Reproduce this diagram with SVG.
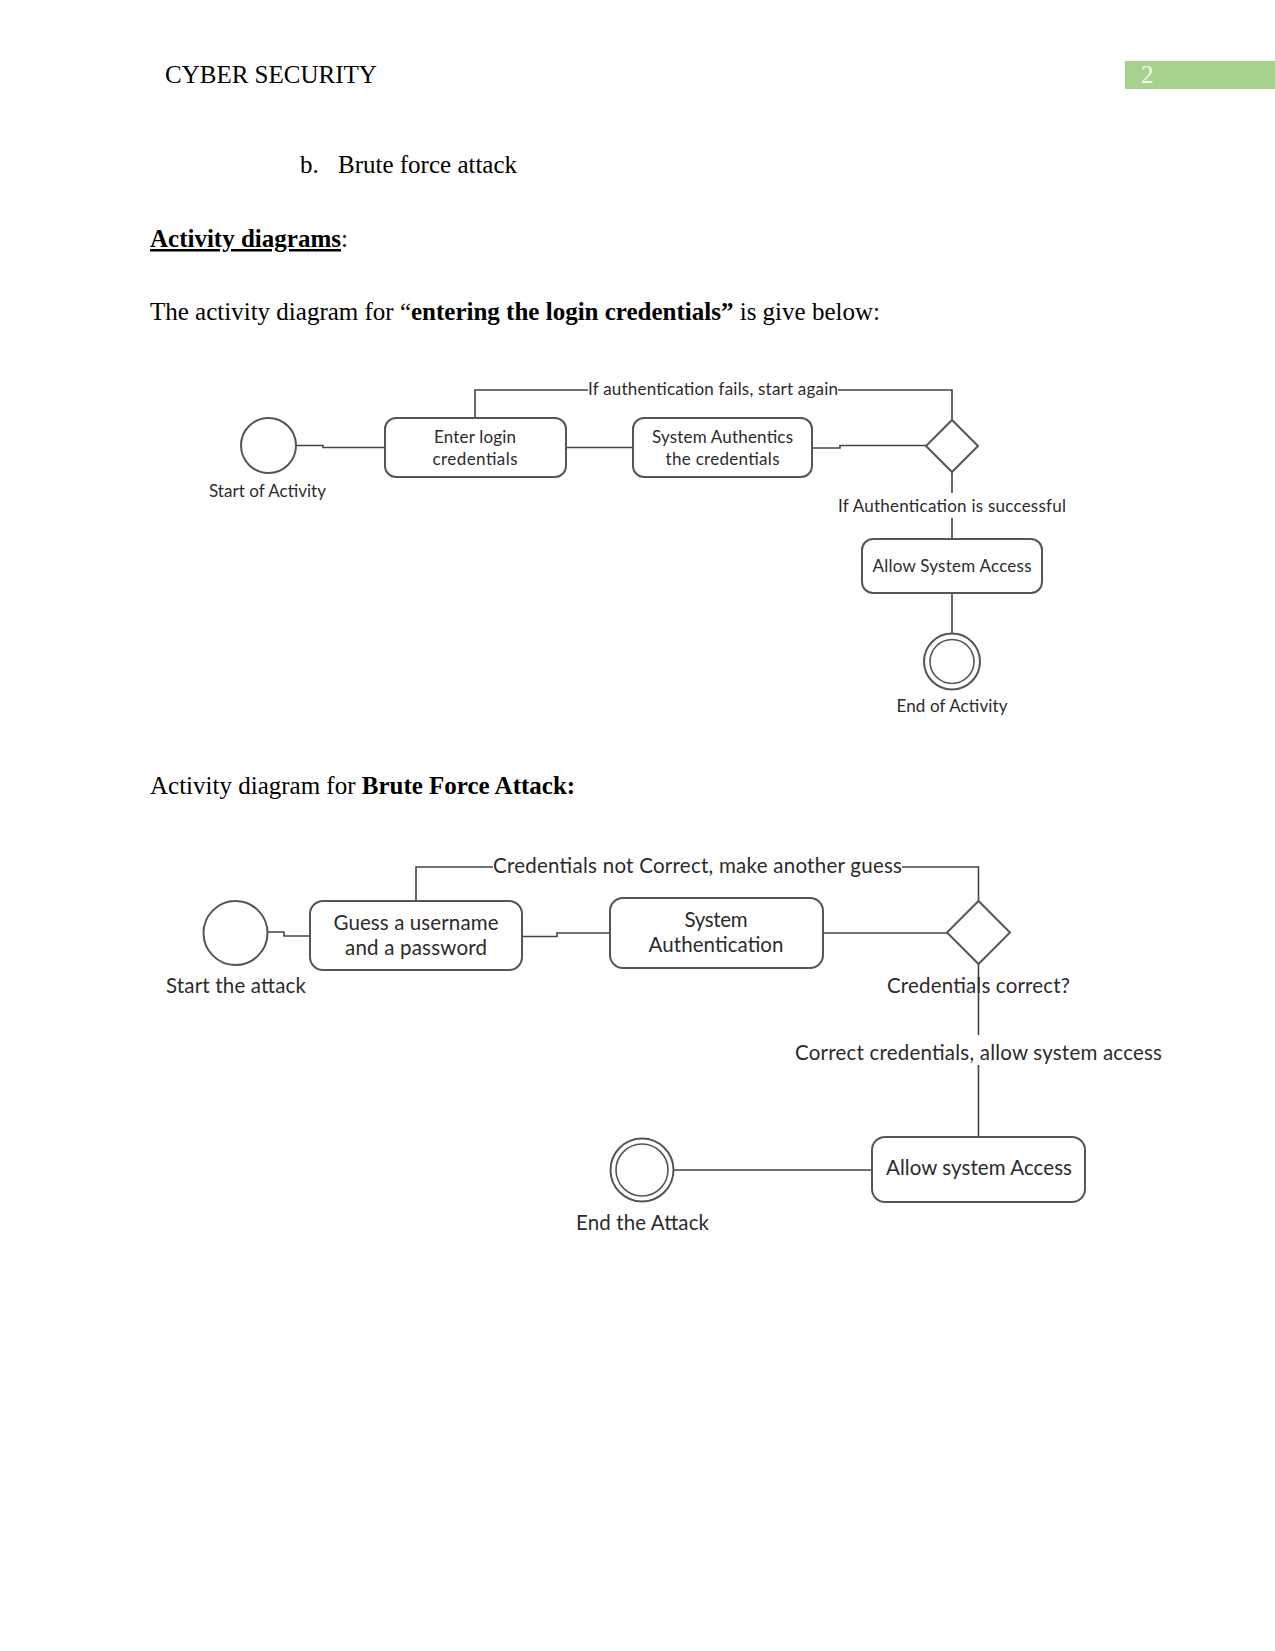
<svg xmlns="http://www.w3.org/2000/svg" width="1275" height="1651" viewBox="0 0 1275 1651">
<style>
.doc{font-family:"Liberation Serif","Times New Roman",serif;font-size:25px;fill:#000}
.b{font-weight:bold}
.lbl{font-family:Lato,"Liberation Sans",sans-serif;fill:#2b2b2b}
.s1{font-size:17px}
.s2{font-size:20.5px}
.box{fill:#fff;stroke:#555;stroke-width:2}
.conn{fill:none;stroke:#444;stroke-width:1.6}
</style>
<rect width="1275" height="1651" fill="#fff"/>
<g id="header">
<text class="doc" x="165" y="83">CYBER SECURITY</text>
<rect x="1125" y="61" width="150" height="28" fill="#a9d18e"/>
<text class="doc" x="1141" y="83" style="fill:#f3f9ee">2</text>
</g>
<g id="body-text">
<text class="doc" x="300" y="173">b.</text>
<text class="doc" x="338" y="173">Brute force attack</text>
<text class="doc" x="150" y="247"><tspan class="b" text-decoration="underline">Activity diagrams</tspan>:</text>
<text class="doc" x="150" y="320">The activity diagram for “<tspan class="b">entering the login credentials”</tspan> is give below:</text>
<text class="doc" x="150" y="794">Activity diagram for <tspan class="b">Brute Force Attack:</tspan></text>
</g>

<g id="connectors">
<path class="conn" d="M296 445.5 H323 V447.5 H385"/>
<path class="conn" d="M566 447.5 H633"/>
<path class="conn" d="M812 448 H840 V445.5 H926"/>
<path class="conn" d="M952 420 V390 H838 M588 390 H475 V418"/>
<path class="conn" d="M952 472 V493 M952 518 V539"/>
<path class="conn" d="M952 593 V633"/>
<path class="conn" d="M268 932 H284 V936 H310"/>
<path class="conn" d="M522 936.5 H557 V933 H610"/>
<path class="conn" d="M823 933 H947"/>
<path class="conn" d="M978.5 901 V867 H902 M493 867 H416 V901"/>
<path class="conn" d="M978.5 964 V1035 M978.5 1065 V1137"/>
<path class="conn" d="M872 1170 H674"/>
</g>

<g id="d1-start">
<circle class="box" cx="268.5" cy="445.5" r="27.5"/>
<text class="lbl s1" x="267.5" y="497" text-anchor="middle" textLength="117">Start of Activity</text>
</g>
<g id="d1-enter">
<rect class="box" x="385" y="418" width="181" height="59" rx="11"/>
<text class="lbl s1" x="475" y="443" text-anchor="middle" textLength="82">Enter login</text>
<text class="lbl s1" x="475" y="465" text-anchor="middle" textLength="85">credentials</text>
</g>
<g id="d1-auth">
<rect class="box" x="633" y="418" width="179" height="59" rx="11"/>
<text class="lbl s1" x="722.5" y="443" text-anchor="middle" textLength="141">System Authentics</text>
<text class="lbl s1" x="722.5" y="465" text-anchor="middle" textLength="114">the credentials</text>
</g>
<g id="d1-decision">
<polygon class="box" points="952,420 978,446 952,472 926,446"/>
<text class="lbl s1" x="588" y="395" textLength="250">If authentication fails, start again</text>
<text class="lbl s1" x="952" y="512" text-anchor="middle" textLength="228">If Authentication is successful</text>
</g>
<g id="d1-allow">
<rect class="box" x="862" y="539" width="180" height="54" rx="11"/>
<text class="lbl s1" x="952" y="572" text-anchor="middle" textLength="159">Allow System Access</text>
</g>
<g id="d1-end">
<circle class="box" cx="952" cy="661.5" r="28"/>
<circle class="box" cx="952" cy="661.5" r="22" style="stroke-width:1.6"/>
<text class="lbl s1" x="952" y="712" text-anchor="middle" textLength="111">End of Activity</text>
</g>

<g id="d2-start">
<circle class="box" cx="235.5" cy="933" r="32"/>
<text class="lbl s2" x="236" y="993" text-anchor="middle" textLength="140">Start the attack</text>
</g>
<g id="d2-guess">
<rect class="box" x="310" y="901" width="212" height="69" rx="13"/>
<text class="lbl s2" x="416" y="930" text-anchor="middle" textLength="165">Guess a username</text>
<text class="lbl s2" x="416" y="955" text-anchor="middle" textLength="142">and a password</text>
</g>
<g id="d2-auth">
<rect class="box" x="610" y="898" width="213" height="70" rx="13"/>
<text class="lbl s2" x="716" y="927" text-anchor="middle" textLength="63">System</text>
<text class="lbl s2" x="716" y="952" text-anchor="middle" textLength="135">Authentication</text>
</g>
<g id="d2-decision">
<polygon class="box" points="978.5,901 1010,932.5 978.5,964 947,932.5"/>
<text class="lbl s2" x="493" y="873" textLength="409">Credentials not Correct, make another guess</text>
<text class="lbl s2" x="978.5" y="993" text-anchor="middle" textLength="183">Credentials correct?</text>
<text class="lbl s2" x="978.5" y="1060" text-anchor="middle" textLength="367">Correct credentials, allow system access</text>
</g>
<g id="d2-allow">
<rect class="box" x="872" y="1137" width="213" height="65" rx="13"/>
<text class="lbl s2" x="979" y="1175" text-anchor="middle" textLength="186">Allow system Access</text>
</g>
<g id="d2-end">
<circle class="box" cx="642" cy="1170" r="31.5"/>
<circle class="box" cx="642" cy="1170" r="26" style="stroke-width:1.6"/>
<text class="lbl s2" x="642.5" y="1230" text-anchor="middle" textLength="133">End the Attack</text>
</g>
</svg>
